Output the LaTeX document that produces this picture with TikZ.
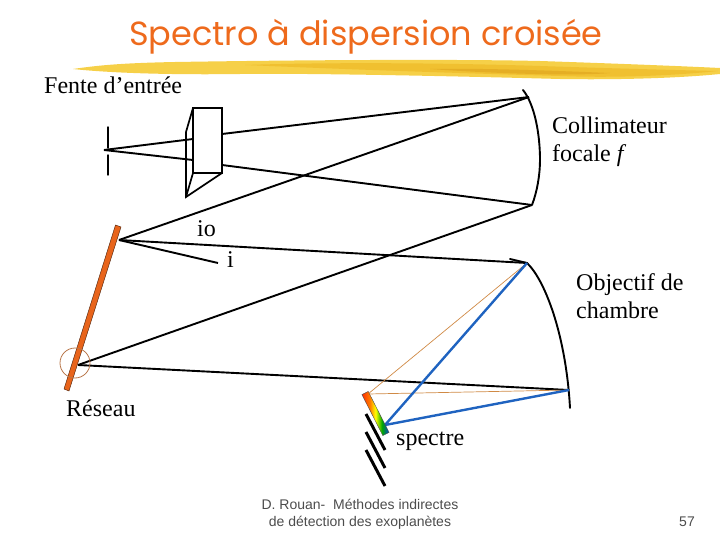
\documentclass[tikz,border=0pt]{standalone}
\usepackage{fontspec}
\setmainfont{Liberation Serif}
\setsansfont{Liberation Sans}
\newfontfamily\titlefont{Poppins}
\definecolor{titleor}{HTML}{EE6A1C}
\definecolor{gratingor}{HTML}{E8641B}
\definecolor{rayblue}{HTML}{1F63C0}
\definecolor{thinor}{HTML}{D08A45}
\definecolor{circ}{HTML}{B8764A}
\definecolor{brusha}{HTML}{F6D048}
\definecolor{brushb}{HTML}{F0C030}
\definecolor{brushc}{HTML}{E5AE24}
\pgfdeclarehorizontalshading{specshade}{100bp}{
  color(0bp)=(red!65!orange);
  color(25bp)=(red!65!orange);
  color(40bp)=(orange);
  color(50bp)=(yellow);
  color(62bp)=(green!65!black);
  color(72bp)=(teal!70!blue);
  color(100bp)=(teal!70!blue)}
\tikzset{
  x=1pt,y=-1pt,
  ray/.style={draw=black,line width=1.9pt},
  blueray/.style={draw=rayblue,line width=2.4pt},
  thinray/.style={draw=thinor,line width=0.7pt},
  optic/.style={draw=black,line width=1.9pt,line cap=round},
  prismline/.style={draw=black,line width=1.7pt,line join=miter},
  order/.style={draw=black,line width=3pt},
  lab/.style={font=\fontsize{24}{28}\selectfont,anchor=west,inner sep=0pt,align=left},
  foot/.style={font=\sffamily\fontsize{14}{17}\selectfont,text=black!70,inner sep=0pt,align=center}
}
\begin{document}
\begin{tikzpicture}
\useasboundingbox (0,0) rectangle (720,540);
% named points
\coordinate (focus) at (104,150);
\coordinate (prismTL) at (193,108);
\coordinate (prismTR) at (222,108);
\coordinate (prismBR) at (222,173);
\coordinate (prismBL) at (193,173);
\coordinate (prismA) at (186,132);
\coordinate (prismB) at (186,197);
\coordinate (inU) at (193,139);
\coordinate (inL) at (193,160);
\coordinate (outU) at (222,134);
\coordinate (outL) at (222,165);
\coordinate (colT) at (529,97);
\coordinate (colB) at (532,205);
\coordinate (gratU) at (119,240);
\coordinate (gratL) at (78,365);
\coordinate (objT) at (527,263);
\coordinate (objB) at (569,390);
\coordinate (iEnd) at (218,263);
\coordinate (specT) at (368,394);
\coordinate (specB) at (385,425);
% brush stroke
\fill[brusha] (73,69) .. controls (100,65) and (125,63) .. (175,62) .. controls (300,60) and (450,59) .. (540,61)
  .. controls (600,63) and (680,66) .. (720,68) -- (720,74) .. controls (680,78) and (620,80) .. (560,79)
  .. controls (450,76) and (300,73) .. (240,74) .. controls (170,75) and (110,73) .. (73,69) -- cycle;
\fill[brushb] (245,65) .. controls (330,62) and (450,63) .. (540,66) .. controls (600,68) and (670,70) .. (718,71)
  .. controls (670,76) and (610,78) .. (560,76) .. controls (450,73) and (340,69) .. (245,65) -- cycle;
\fill[brushc] (430,69) .. controls (490,68) and (560,71) .. (610,73) .. controls (580,76) and (500,74) .. (430,69) -- cycle;
% title
\node[inner sep=0pt,text=titleor,font=\titlefont\fontsize{33.5}{38}\selectfont] (title) at (366,37) {Spectro à dispersion croisée};
% slit
\coordinate (slitA) at (108,127); \coordinate (slitB) at (108,148);
\coordinate (slitC) at (108,155); \coordinate (slitD) at (108,175);
\draw[optic,line width=1.4pt] (slitA) -- (slitB);
\draw[optic,line width=1.4pt] (slitC) -- (slitD);
% rays
\draw[ray] (focus) -- (inU);
\draw[ray] (focus) -- (inL);
\draw[ray] (outU) -- (colT);
\draw[ray] (outL) -- (colB);
\draw[ray] (gratU) -- (colT);
\draw[ray] (gratL) -- (colB);
\draw[ray] (gratU) -- (objT);
\draw[ray] (gratU) -- (iEnd);
\draw[ray] (gratL) -- (objB);
% prism
\draw[prismline,fill=white] (prismTL) rectangle (prismBR);
\draw[prismline] (prismTL) -- (prismA) -- (prismB) -- (prismBR);
\draw[prismline] (prismB) -- (prismBL);
% collimator
\draw[optic] (523,90) .. controls (535,105) and (540,135) .. (540,160) .. controls (540,175) and (537,192) .. (532,205);
% objective
\draw[optic] (510,259) -- (objT) .. controls (545,280) and (566,335) .. (570,408);
% grating
\draw[draw=black!70!gratingor,fill=gratingor,line width=0.4pt] (115.5,225) -- (121,227) -- (69,391) -- (64,389) -- cycle;
\node[draw=circ,line width=0.8pt,circle,minimum size=30pt,inner sep=0pt] (circle) at (75,363) {};
% thin and blue rays
\draw[thinray] (objT) -- (specT);
\draw[thinray] (objB) -- (specT);
\draw[blueray] (objT) -- (specB);
\draw[blueray] (objB) -- (specB);
% spectrum
\begin{scope}[shift={(375.5,413.5)},rotate=-63]
\shade[shading=specshade,draw=black!70,line width=0.4pt] (-23,-3.5) rectangle (23,3.5);
\end{scope}
% order-sorting lines
\coordinate (ordA1) at (366,414); \coordinate (ordA2) at (385,450);
\coordinate (ordB1) at (366,432); \coordinate (ordB2) at (385,468);
\coordinate (ordC1) at (366,450); \coordinate (ordC2) at (385,486);
\draw[order] (ordA1) -- (ordA2);
\draw[order] (ordB1) -- (ordB2);
\draw[order] (ordC1) -- (ordC2);
% labels
\node[lab] (fente) at (44,85) {Fente d’entrée};
\node[lab,align=left] (coll) at (552,142) {Collimateur\\focale \textit{f}};
\node[lab] (io) at (197,229) {io};
\node[lab] (ilab) at (227,260) {i};
\node[lab] (obj) at (576,296) {Objectif de\\chambre};
\node[lab] (res) at (66,408) {Réseau};
\node[lab] (spec) at (396,441) {spectre};
\node[foot] (foot) at (360,514) {D. Rouan-\ \ Méthodes indirectes\\de détection des exoplanètes};
\node[foot] (num) at (687,522) {57};
\end{tikzpicture}
\end{document}
